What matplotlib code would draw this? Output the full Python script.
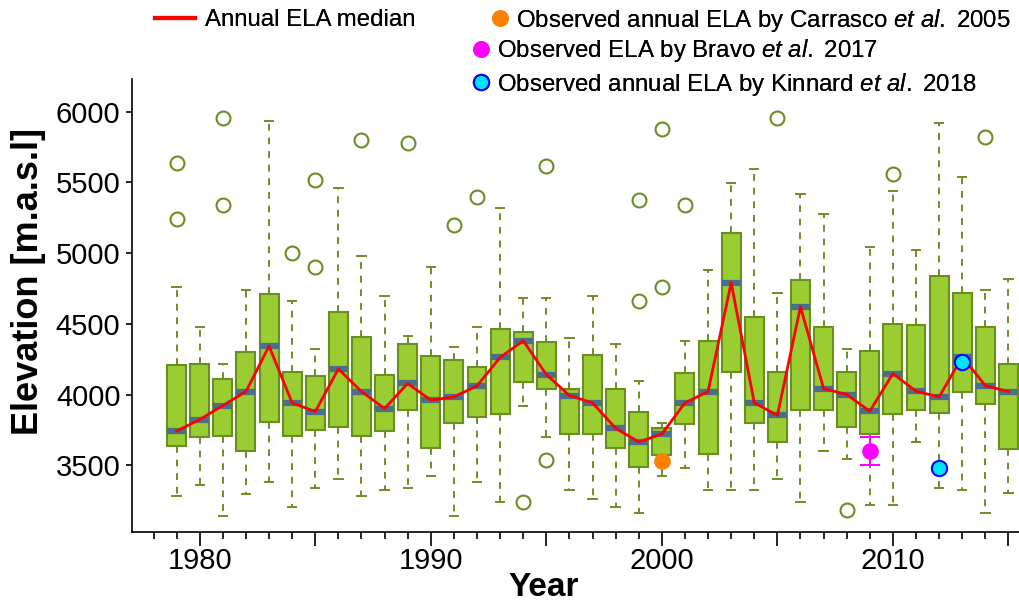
import matplotlib
matplotlib.use('Agg')
import matplotlib.pyplot as plt
from matplotlib.ticker import MultipleLocator, FuncFormatter
from matplotlib.lines import Line2D

plt.rcParams['font.family'] = ['Liberation Sans', 'DejaVu Sans']
plt.rcParams['mathtext.fontset'] = 'custom'
plt.rcParams['mathtext.it'] = 'Liberation Sans:italic'
plt.rcParams['mathtext.rm'] = 'Liberation Sans'

# ELA distribution per year
years = list(range(1979, 2016))
whishi = [4757, 4479, 4219, 4738, 5936, 4658, 4323, 5458, 4981, 4698, 4417, 4899, 4337,
          4479, 5318, 4679, 4679, 4396, 4696, 4358, 4099, 3799, 4380, 4880, 5493, 5597,
          4719, 5418, 5276, 4323, 5040, 5439, 5019, 5918, 5535, 4738, 4818]
q3 = [4210, 4219, 4111, 4299, 4710, 4158, 4129, 4580, 4408, 4139, 4358, 4271, 4247,
      4191, 4460, 4441, 4368, 4037, 4278, 4040, 3879, 3761, 4151, 4380, 5139, 4549,
      4160, 4809, 4479, 4160, 4309, 4497, 4488, 4840, 4719, 4479, 4219]
med = [3742, 3823, 3922, 4021, 4342, 3941, 3879, 4181, 4021, 3901, 4078, 3960, 3983,
       4061, 4262, 4380, 4141, 3993, 3941, 3761, 3665, 3721, 3941, 4021, 4790, 3941,
       3853, 4620, 4042, 4000, 3882, 4148, 4023, 3983, 4266, 4063, 4021]
q1 = [3639, 3700, 3710, 3601, 3809, 3710, 3752, 3771, 3710, 3740, 3889, 3620, 3799,
      3842, 3861, 4089, 4040, 3719, 3719, 3620, 3490, 3570, 3792, 3582, 4158, 3802,
      3662, 3889, 3889, 3771, 3724, 3861, 3889, 3870, 4019, 3931, 3613]
whislo = [3280, 3360, 3143, 3299, 3382, 3205, 3342, 3403, 3280, 3323, 3342, 3422, 3141,
          3382, 3240, 3922, 3700, 3323, 3261, 3205, 3162, 3424, 3481, 3323, 3323, 3323,
          3403, 3240, 3601, 3542, 3221, 3221, 3662, 3342, 3323, 3162, 3301]
outliers = {1979: [5639, 5238], 1981: [5955, 5337], 1984: [4998], 1985: [5517, 4899],
            1987: [5800], 1989: [5778], 1991: [5198], 1992: [5399], 1994: [3240],
            1995: [5616, 3540], 1999: [5377, 4658], 2000: [5877, 4759], 2001: [5337],
            2005: [5955], 2008: [3181], 2010: [5557], 2014: [5819]}

# observations
carrasco_year = [2000]
carrasco_ela = [3528]
bravo_year = [2009]
bravo_ela = [3601]
bravo_err = [100]
kinnard_year = [2012, 2013]
kinnard_ela = [3481, 4233]

box_green = '#9ACD32'
edge_green = '#6B8E23'
orange = '#FF7F00'
magenta = '#FF00FF'
cyan = '#00E5FF'

stats = []
for i, y in enumerate(years):
    stats.append(dict(med=med[i], q1=q1[i], q3=q3[i], whislo=whislo[i],
                      whishi=whishi[i], fliers=outliers.get(y, [])))

fig = plt.figure(figsize=(10.2, 6.07), dpi=100)
ax = fig.add_axes([0.129, 0.124, 0.871, 0.746])

ax.bxp(stats, positions=years, widths=0.82, patch_artist=True, capwidths=0.36,
       boxprops=dict(facecolor=box_green, edgecolor=edge_green, linewidth=1.5),
       whiskerprops=dict(color=edge_green, linestyle=(0, (3.5, 3.5)), linewidth=1.4),
       capprops=dict(color=edge_green, linewidth=1.4),
       medianprops=dict(color='#4A6E8E', linewidth=4.5, solid_capstyle='butt'),
       flierprops=dict(marker='o', markerfacecolor='none', markeredgecolor=edge_green,
                       markersize=10, markeredgewidth=1.5),
       manage_ticks=False)

ax.plot(years, med, color='red', linewidth=2, zorder=5)

ax.plot(carrasco_year, carrasco_ela, 'o', color=orange, markersize=11, zorder=6)
ax.errorbar(bravo_year, bravo_ela, yerr=bravo_err, fmt='o', color=magenta,
            markersize=11, capsize=7, elinewidth=1.5, capthick=1.5, zorder=6)
ax.plot(kinnard_year, kinnard_ela, 'o', markerfacecolor=cyan, markeredgecolor='#0000FF',
        markersize=11, markeredgewidth=1.5, zorder=6)

ax.set_xlim(1977.05, 2015.5)
ax.set_ylim(3030, 6231)
ax.spines['top'].set_visible(False)
ax.spines['right'].set_visible(False)
for s in ['left', 'bottom']:
    ax.spines[s].set_linewidth(1.2)

ax.xaxis.set_major_locator(MultipleLocator(5))
ax.xaxis.set_minor_locator(MultipleLocator(1))
ax.xaxis.set_major_formatter(FuncFormatter(lambda v, p: '%d' % v if int(round(v)) % 10 == 0 else ''))
ax.set_yticks([3500, 4000, 4500, 5000, 5500, 6000])
ax.tick_params(axis='both', which='major', labelsize=21, width=1.2)
ax.tick_params(axis='x', which='major', length=10, pad=1)
ax.tick_params(axis='x', which='minor', length=5, width=1.2)
ax.tick_params(axis='y', which='major', length=4, pad=4)

ax.set_xlabel('Year', fontsize=24, fontweight='bold')
ax.set_ylabel('Elevation [m.a.s.l]', fontsize=26, fontweight='bold')
ax.xaxis.set_label_coords(0.464, -0.090)
ax.yaxis.set_label_coords(-0.096, 0.552)

fs = 17.3
leg_kw = dict(loc='center left', frameon=False, fontsize=fs, borderpad=0, borderaxespad=0)

def place(handle, label, x, y, hl, pad):
    leg = fig.legend([handle], [label], bbox_to_anchor=(x / 1020, 1 - y / 607),
                     handlelength=hl, handletextpad=pad, **leg_kw)
    fig.add_artist(leg)

place(Line2D([], [], color='red', linewidth=3), 'Annual ELA median', 155, 20, 1.67, 0.42)
place(Line2D([], [], marker='o', linestyle='none', color=orange, markersize=11),
      'Observed annual ELA by Carrasco $\\it{et\\ al.}$ 2005', 490, 20, 0.8, 0.3)
place(Line2D([], [], marker='o', linestyle='none', color=magenta, markersize=11),
      'Observed ELA by Bravo $\\it{et\\ al.}$ 2017', 471, 51, 0.8, 0.27)
place(Line2D([], [], marker='o', linestyle='none', markerfacecolor=cyan,
             markeredgecolor='#0000FF', markersize=11, markeredgewidth=1.5),
      'Observed annual ELA by Kinnard $\\it{et\\ al.}$ 2018', 471, 84, 0.8, 0.27)

fig.savefig('out.png', dpi=100)
